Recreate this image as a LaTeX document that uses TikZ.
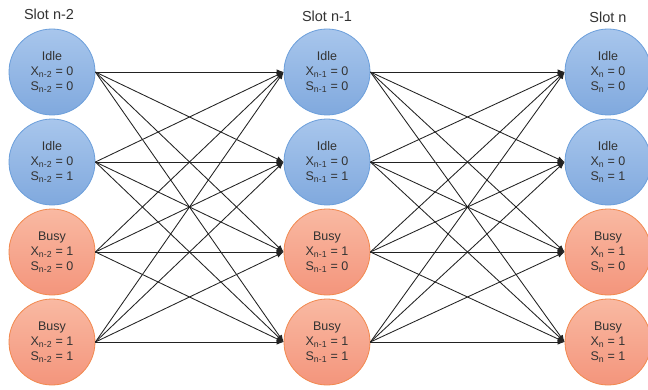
\documentclass[tikz,border=0pt]{standalone}
\usepackage{fontspec}
\setmainfont{Liberation Sans}
\usetikzlibrary{arrows.meta}
\definecolor{txt}{HTML}{333333}
\definecolor{edge}{HTML}{222222}
\definecolor{idletop}{HTML}{A8C6EC}
\definecolor{idlebot}{HTML}{80A9DE}
\definecolor{idleline}{HTML}{6C9FDB}
\definecolor{busytop}{HTML}{F9B9A2}
\definecolor{busybot}{HTML}{F4957C}
\definecolor{busyline}{HTML}{F2894F}
\begin{document}
\begin{tikzpicture}[x=1pt,y=1pt,
  state/.style={circle,minimum size=86pt,inner sep=0pt,line width=0.8pt,
    font=\fontsize{12.5}{15}\selectfont,text=txt,align=center},
  idle/.style={state,draw=idleline,top color=idletop,bottom color=idlebot},
  busy/.style={state,draw=busyline,top color=busytop,bottom color=busybot},
  slot/.style={font=\fontsize{14.5}{16}\selectfont,text=txt},
  tr/.style={draw=edge,line width=0.85pt,-{Latex[length=7pt,width=5.5pt]}}]
\useasboundingbox (0,0) rectangle (648,389);
\fill[white] (0,0) rectangle (648,389);
\def\colA{52}\def\colB{327}\def\colC{608}
\node[slot] (t1) at (49,375) {Slot n-2};
\node[slot] (t2) at (327,373) {Slot n-1};
\node[slot] (t3) at (608,372) {Slot n};
% column 1
\node[idle] (a1) at (\colA,317) {Idle\\X\textsubscript{n-2} = 0\\S\textsubscript{n-2} = 0};
\node[idle] (a2) at (\colA,227) {Idle\\X\textsubscript{n-2} = 0\\S\textsubscript{n-2} = 1};
\node[busy] (a3) at (\colA,137) {Busy\\X\textsubscript{n-2} = 1\\S\textsubscript{n-2} = 0};
\node[busy] (a4) at (\colA,47) {Busy\\X\textsubscript{n-2} = 1\\S\textsubscript{n-2} = 1};
% column 2
\node[idle] (b1) at (\colB,317) {Idle\\X\textsubscript{n-1} = 0\\S\textsubscript{n-1} = 0};
\node[idle] (b2) at (\colB,227) {Idle\\X\textsubscript{n-1} = 0\\S\textsubscript{n-1} = 1};
\node[busy] (b3) at (\colB,137) {Busy\\X\textsubscript{n-1} = 1\\S\textsubscript{n-1} = 0};
\node[busy] (b4) at (\colB,47) {Busy\\X\textsubscript{n-1} = 1\\S\textsubscript{n-1} = 1};
% column 3
\node[idle] (c1) at (\colC,317) {Idle\\X\textsubscript{n} = 0\\S\textsubscript{n} = 0};
\node[idle] (c2) at (\colC,227) {Idle\\X\textsubscript{n} = 0\\S\textsubscript{n} = 1};
\node[busy] (c3) at (\colC,137) {Busy\\X\textsubscript{n} = 1\\S\textsubscript{n} = 0};
\node[busy] (c4) at (\colC,47) {Busy\\X\textsubscript{n} = 1\\S\textsubscript{n} = 1};
\foreach \i in {1,...,4}{
  \foreach \j in {1,...,4}{
    \draw[tr] (a\i.east) -- (b\j.west);
    \draw[tr] (b\i.east) -- (c\j.west);
  }
}
\end{tikzpicture}
\end{document}
